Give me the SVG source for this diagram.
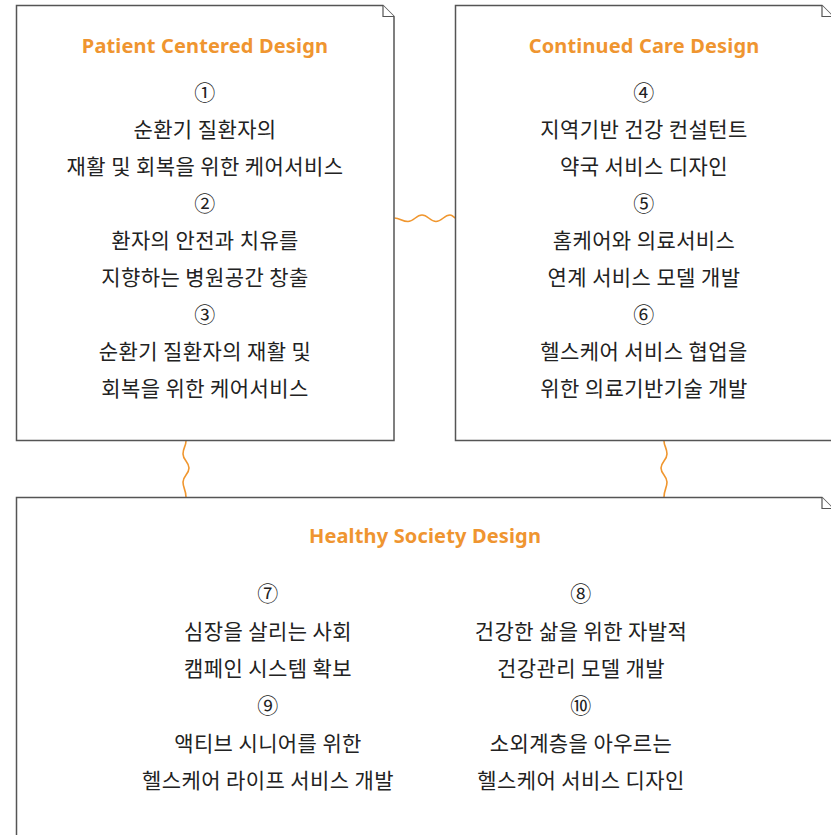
<svg xmlns="http://www.w3.org/2000/svg" width="831" height="835" viewBox="0 0 831 835">
<style>
.box{fill:#fff;stroke:#555;stroke-width:1.5}
.fold{fill:#fff;stroke:#555;stroke-width:1.2;stroke-linejoin:miter}
.title{font-family:"Noto Sans","Noto Sans CJK KR",sans-serif;font-weight:bold;font-size:20px;letter-spacing:0.15px;fill:#EF9530;text-anchor:middle}
.t{font-family:"Noto Sans CJK KR","Noto Sans",sans-serif;font-size:21px;letter-spacing:0.4px;fill:#222;text-anchor:middle}
.wave{fill:none;stroke:#F0962E;stroke-width:1.6}
</style>
<rect width="831" height="835" fill="#fff"/>
<g id="connectors">
<path class="wave" d="M394.5,218 C400,218 402,221.5 408,221.5 C414,221.5 416,215 422,215 C428,215 430,221.5 436,221.5 C442,221.5 444,215 450,215 C453,215 454,218 455.5,218"/>
<path class="wave" d="M186,441 C186,446 183,448 183,454 C183,460 189,462 189,468 C189,474 183,476 183,482 C183,488 186,490 186,497"/>
<path class="wave" d="M664,441 C664,446 667,448 667,454 C667,460 661,462 661,468 C661,474 667,476 667,482 C667,488 664,490 664,497"/>
</g>
<g id="patient">
<path class="box" d="M16.5,5.5 H383 L394,16.5 V440.5 H16.5 Z"/>
<path class="fold" d="M383,5.5 V16.5 H394"/>
<text class="title" x="205" y="53">Patient Centered Design</text>
<text class="t" x="205" y="100">①</text>
<text class="t" x="205" y="137">순환기 질환자의</text>
<text class="t" x="205" y="174">재활 및 회복을 위한 케어서비스</text>
<text class="t" x="205" y="211">②</text>
<text class="t" x="205" y="248">환자의 안전과 치유를</text>
<text class="t" x="205" y="285">지향하는 병원공간 창출</text>
<text class="t" x="205" y="322">③</text>
<text class="t" x="205" y="359">순환기 질환자의 재활 및</text>
<text class="t" x="205" y="396">회복을 위한 케어서비스</text>
</g>
<g id="continued">
<path class="box" d="M455.5,5.5 H822 L833,16.5 V440.5 H455.5 Z"/>
<path class="fold" d="M822,5.5 V16.5 H833"/>
<text class="title" x="644" y="53">Continued Care Design</text>
<text class="t" x="644" y="100">④</text>
<text class="t" x="644" y="137">지역기반 건강 컨설턴트</text>
<text class="t" x="644" y="174">약국 서비스 디자인</text>
<text class="t" x="644" y="211">⑤</text>
<text class="t" x="644" y="248">홈케어와 의료서비스</text>
<text class="t" x="644" y="285">연계 서비스 모델 개발</text>
<text class="t" x="644" y="322">⑥</text>
<text class="t" x="644" y="359">헬스케어 서비스 협업을</text>
<text class="t" x="644" y="396">위한 의료기반기술 개발</text>
</g>
<g id="healthy">
<path class="box" d="M16.5,497.5 H822 L833,508.5 V840 H16.5 Z"/>
<path class="fold" d="M822,497.5 V508.5 H833"/>
<text class="title" x="425" y="543">Healthy Society Design</text>
<text class="t" x="268" y="601">⑦</text>
<text class="t" x="268" y="639">심장을 살리는 사회</text>
<text class="t" x="268" y="676">캠페인 시스템 확보</text>
<text class="t" x="268" y="713">⑨</text>
<text class="t" x="268" y="751">액티브 시니어를 위한</text>
<text class="t" x="268" y="788">헬스케어 라이프 서비스 개발</text>
<text class="t" x="581" y="601">⑧</text>
<text class="t" x="581" y="639">건강한 삶을 위한 자발적</text>
<text class="t" x="581" y="676">건강관리 모델 개발</text>
<text class="t" x="581" y="713">⑩</text>
<text class="t" x="581" y="751">소외계층을 아우르는</text>
<text class="t" x="581" y="788">헬스케어 서비스 디자인</text>
</g>
</svg>
